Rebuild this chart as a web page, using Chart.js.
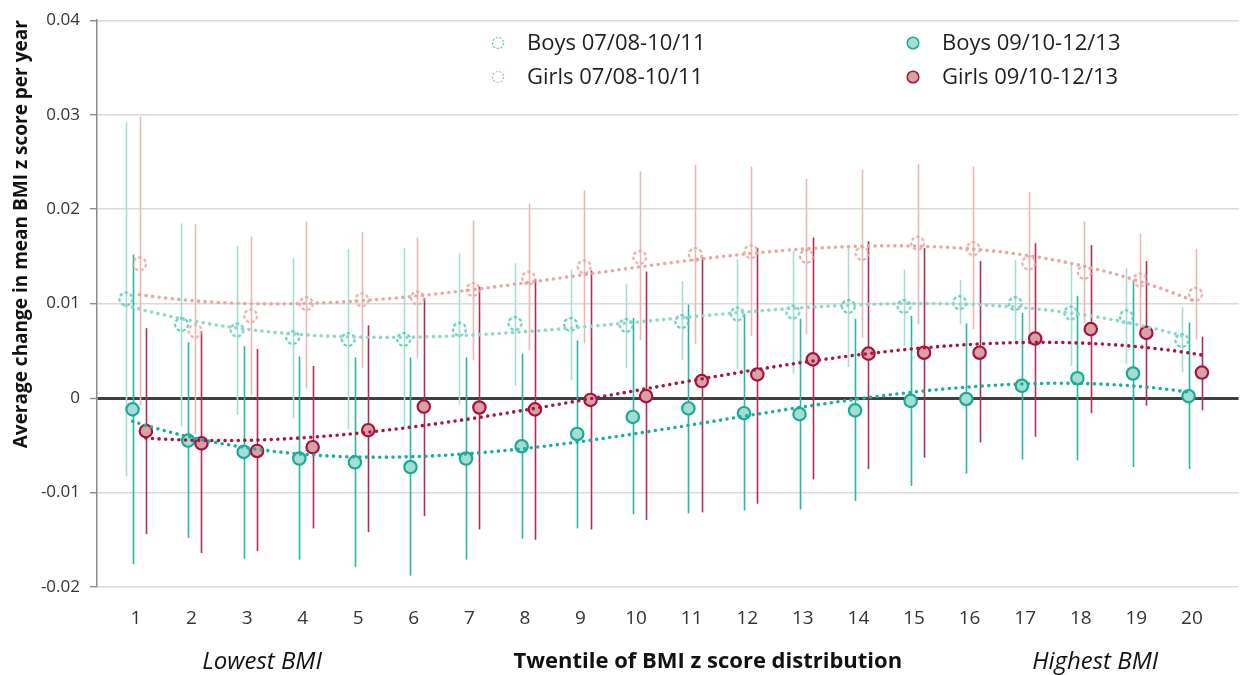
<!DOCTYPE html>
<html>
<head>
<meta charset="utf-8">
<script src="https://cdn.jsdelivr.net/npm/chart.js@4.4.0/dist/chart.umd.min.js"></script>
<style>
  html, body { margin: 0; padding: 0; background: #ffffff; }
  #wrap { width: 1247px; height: 675px; position: relative; }
</style>
</head>
<body>
<div id="wrap"><canvas id="chart"></canvas></div>
<script>
// Twentiles of the BMI z score distribution
const twentiles = [1, 2, 3, 4, 5, 6, 7, 8, 9, 10, 11, 12, 13, 14, 15, 16, 17, 18, 19, 20];
const xTickLabels = ['1', '2', '3', '4', '5', '6', '7', '8', '9', '10', '11', '12', '13', '14', '15', '16', '17', '18', '19', '20'];
const yTickValues = [-0.02, -0.01, 0, 0.01, 0.02, 0.03, 0.04];

// Boys 07/08-10/11: mean change and 95% interval
const boys0708 = [0.0105, 0.0078, 0.0072, 0.0064, 0.0062, 0.0062, 0.0073, 0.0079, 0.0078, 0.0077, 0.0081, 0.0089, 0.0091, 0.0097, 0.0097, 0.0101, 0.0100, 0.0090, 0.0086, 0.0061];
const boys0708Low = [-0.0083, -0.0030, -0.0018, -0.0021, -0.0033, -0.0031, -0.0007, 0.0013, 0.0019, 0.0032, 0.0040, 0.0031, 0.0026, 0.0033, 0.0055, 0.0078, 0.0061, 0.0034, 0.0036, 0.0027];
const boys0708High = [0.0292, 0.0185, 0.0161, 0.0148, 0.0158, 0.0159, 0.0153, 0.0143, 0.0136, 0.0121, 0.0124, 0.0147, 0.0156, 0.0159, 0.0136, 0.0125, 0.0146, 0.0142, 0.0138, 0.0096];

// Girls 07/08-10/11
const girls0708 = [0.0142, 0.0071, 0.0087, 0.0100, 0.0104, 0.0106, 0.0115, 0.0127, 0.0139, 0.0149, 0.0152, 0.0155, 0.0150, 0.0153, 0.0164, 0.0158, 0.0143, 0.0133, 0.0125, 0.0110];
const girls0708Low = [-0.0008, -0.0038, 0.0003, 0.0010, 0.0032, 0.0042, 0.0040, 0.0051, 0.0058, 0.0061, 0.0057, 0.0066, 0.0068, 0.0064, 0.0078, 0.0073, 0.0064, 0.0080, 0.0073, 0.0062];
const girls0708High = [0.0298, 0.0184, 0.0171, 0.0187, 0.0176, 0.0170, 0.0188, 0.0206, 0.0220, 0.0240, 0.0247, 0.0245, 0.0232, 0.0242, 0.0248, 0.0245, 0.0218, 0.0187, 0.0174, 0.0158];

// Boys 09/10-12/13
const boys0910 = [-0.0012, -0.0045, -0.0057, -0.0064, -0.0068, -0.0073, -0.0064, -0.0051, -0.0038, -0.0020, -0.0011, -0.0016, -0.0017, -0.0013, -0.0003, -0.0001, 0.0013, 0.0021, 0.0026, 0.0002];
const boys0910Low = [-0.0176, -0.0148, -0.0170, -0.0171, -0.0179, -0.0188, -0.0171, -0.0149, -0.0138, -0.0123, -0.0122, -0.0119, -0.0118, -0.0109, -0.0093, -0.0080, -0.0065, -0.0066, -0.0073, -0.0075];
const boys0910High = [0.0152, 0.0059, 0.0055, 0.0044, 0.0043, 0.0043, 0.0043, 0.0047, 0.0061, 0.0085, 0.0099, 0.0089, 0.0084, 0.0084, 0.0087, 0.0079, 0.0090, 0.0108, 0.0124, 0.0080];

// Girls 09/10-12/13
const girls0910 = [-0.0035, -0.0048, -0.0056, -0.0052, -0.0034, -0.0009, -0.0010, -0.0012, -0.0002, 0.0002, 0.0018, 0.0025, 0.0041, 0.0047, 0.0048, 0.0048, 0.0063, 0.0073, 0.0069, 0.0027];
const girls0910Low = [-0.0144, -0.0164, -0.0162, -0.0138, -0.0142, -0.0125, -0.0139, -0.0150, -0.0139, -0.0129, -0.0121, -0.0112, -0.0086, -0.0075, -0.0063, -0.0047, -0.0041, -0.0016, -0.0008, -0.0013];
const girls0910High = [0.0074, 0.0071, 0.0052, 0.0034, 0.0077, 0.0106, 0.0118, 0.0126, 0.0135, 0.0134, 0.0149, 0.0159, 0.0170, 0.0166, 0.0159, 0.0145, 0.0164, 0.0162, 0.0145, 0.0065];

const FONT = "'Open Sans', 'Liberation Sans', sans-serif";

// Least-squares polynomial trend (cubic), as used for the dotted trend curves
function polyfit(xs, ys, deg) {
  const n = deg + 1;
  const A = Array.from({ length: n }, () => new Array(n + 1).fill(0));
  xs.forEach((x, k) => {
    for (let r = 0; r < n; r++) {
      for (let c = 0; c < n; c++) A[r][c] += Math.pow(x, r + c);
      A[r][n] += ys[k] * Math.pow(x, r);
    }
  });
  for (let i = 0; i < n; i++) {
    let p = i;
    for (let j = i + 1; j < n; j++) if (Math.abs(A[j][i]) > Math.abs(A[p][i])) p = j;
    [A[i], A[p]] = [A[p], A[i]];
    for (let j = i + 1; j < n; j++) {
      const f = A[j][i] / A[i][i];
      for (let c = i; c <= n; c++) A[j][c] -= f * A[i][c];
    }
  }
  const coef = new Array(n).fill(0);
  for (let i = n - 1; i >= 0; i--) {
    let s = A[i][n];
    for (let c = i + 1; c < n; c++) s -= A[i][c] * coef[c];
    coef[i] = s / A[i][i];
  }
  return x => coef.reduce((acc, a, i) => acc + a * Math.pow(x, i), 0);
}

function trendPoints(values, shift) {
  const f = polyfit(twentiles, values, 3);
  const pts = [];
  const first = twentiles[0], last = twentiles[twentiles.length - 1];
  for (let t = first; t <= last + 1e-9; t += 0.1) pts.push({ x: t + shift, y: f(t) });
  return pts;
}

// Dashed open circle used for the 07/08-10/11 cohorts
function dashedCircle(color, radius, lineWidth, dash) {
  const size = Math.ceil(2 * (radius + lineWidth)) + 2;
  const cv = document.createElement('canvas');
  cv.width = size; cv.height = size;
  const g = cv.getContext('2d');
  g.strokeStyle = color;
  g.lineWidth = lineWidth;
  g.setLineDash(dash);
  g.beginPath();
  g.arc(size / 2, size / 2, radius, 0, Math.PI * 2);
  g.stroke();
  return cv;
}

const series = [
  { label: 'Boys 07/08-10/11', values: boys0708, low: boys0708Low, high: boys0708High, shift: -0.18,
    marker: '#5fcabb', fill: null, bar: '#a6ded6', trend: '#8fd6cd', order: 4 },
  { label: 'Girls 07/08-10/11', values: girls0708, low: girls0708Low, high: girls0708High, shift: 0.065,
    marker: '#e3a9a4', fill: null, bar: '#e8bab6', trend: '#e2aaa4', order: 3 },
  { label: 'Boys 09/10-12/13', values: boys0910, low: boys0910Low, high: boys0910High, shift: -0.06,
    marker: '#17aa96', fill: '#a5dcd4', bar: '#2bb5a3', trend: '#17b09c', order: 2 },
  { label: 'Girls 09/10-12/13', values: girls0910, low: girls0910Low, high: girls0910High, shift: 0.18,
    marker: '#a5123f', fill: '#d8a2a3', bar: '#b02d58', trend: '#a6163f', order: 1 }
];

const datasets = [];
series.forEach(s => {
  const hollow = s.fill === null;
  datasets.push({
    type: 'scatter',
    label: s.label,
    data: twentiles.map((t, i) => ({ x: t + s.shift, y: s.values[i] })),
    pointStyle: hollow ? dashedCircle(s.marker, 6.4, 2.1, [3.4, 2.2]) : 'circle',
    pointRadius: 6.2,
    pointHoverRadius: 6.2,
    pointBorderWidth: 2.2,
    pointBackgroundColor: hollow ? 'rgba(0,0,0,0)' : s.fill,
    pointBorderColor: s.marker,
    order: s.order
  });
  datasets.push({
    type: 'line',
    label: s.label + ' trend',
    data: trendPoints(s.values, s.shift),
    borderColor: s.trend,
    borderWidth: 3.6,
    borderDash: [0, 6.6],
    borderCapStyle: 'round',
    pointRadius: 0,
    fill: false,
    tension: 0,
    order: 0
  });
});

// Vertical interval bars, drawn beneath the markers
const intervalBars = {
  id: 'intervalBars',
  beforeDatasetsDraw(chart) {
    const { ctx, scales: { x, y } } = chart;
    ctx.save();
    ctx.lineWidth = 1.6;
    series.forEach(s => {
      ctx.strokeStyle = s.bar;
      twentiles.forEach((t, i) => {
        const px = Math.round(x.getPixelForValue(t + s.shift)) + 0.5;
        ctx.beginPath();
        ctx.moveTo(px, y.getPixelForValue(s.low[i]));
        ctx.lineTo(px, y.getPixelForValue(s.high[i]));
        ctx.stroke();
      });
    });
    ctx.restore();
  }
};

// Two-column key at the top of the plot
const keyPlugin = {
  id: 'key',
  afterDraw(chart) {
    const { ctx } = chart;
    const cols = [498, 913];
    const rows = [43, 77];
    const slots = [[0, 0], [0, 1], [1, 0], [1, 1]];
    ctx.save();
    ctx.font = `22px ${FONT}`;
    ctx.textBaseline = 'middle';
    ctx.textAlign = 'left';
    series.forEach((s, i) => {
      const [c, r] = slots[i];
      const cx = cols[c], cy = rows[r];
      if (s.fill === null) {
        ctx.strokeStyle = s.marker;
        ctx.lineWidth = 1.2;
        ctx.setLineDash([2.2, 1.6]);
        ctx.beginPath();
        ctx.arc(cx, cy, 5.5, 0, Math.PI * 2);
        ctx.stroke();
        ctx.setLineDash([]);
      } else {
        ctx.fillStyle = s.fill;
        ctx.strokeStyle = s.marker;
        ctx.lineWidth = 1.5;
        ctx.beginPath();
        ctx.arc(cx, cy, 5.8, 0, Math.PI * 2);
        ctx.fill();
        ctx.stroke();
      }
      ctx.fillStyle = '#1e1e1e';
      ctx.fillText(s.label, cx + 29, cy + 1);
    });
    ctx.restore();
  }
};

// Captions under the twentile numbers
const bottomCaptions = {
  id: 'bottomCaptions',
  afterDraw(chart) {
    const { ctx, scales: { x } } = chart;
    const y = 662;
    ctx.save();
    ctx.fillStyle = '#111111';
    ctx.textAlign = 'center';
    ctx.textBaseline = 'middle';
    ctx.font = `italic 24px ${FONT}`;
    ctx.fillText('Lowest BMI', x.getPixelForValue(3.27), y);
    ctx.fillText('Highest BMI', x.getPixelForValue(18.26), y);
    ctx.font = `bold 22px ${FONT}`;
    ctx.fillText('Twentile of BMI z score distribution', x.getPixelForValue(11.29), y);
    ctx.restore();
  }
};

new Chart(document.getElementById('chart'), {
  type: 'scatter',
  data: { datasets },
  plugins: [intervalBars, keyPlugin, bottomCaptions],
  options: {
    responsive: true,
    maintainAspectRatio: false,
    animation: false,
    devicePixelRatio: 1,
    layout: { padding: { top: 18, right: 2, left: 0, bottom: 0 } },
    plugins: { legend: { display: false }, tooltip: { enabled: false } },
    scales: {
      x: {
        type: 'linear',
        min: 0.3,
        max: 20.84,
        afterFit(scale) { scale.height = 88; },
        afterBuildTicks(scale) { scale.ticks = twentiles.map(v => ({ value: v })); },
        grid: { display: false, drawTicks: false },
        border: { display: false },
        ticks: {
          padding: 20,
          autoSkip: false,
          maxRotation: 0,
          color: '#333333',
          font: { family: FONT, size: 19 },
          callback: (v, i) => xTickLabels[i]
        }
      },
      y: {
        min: -0.02,
        max: 0.04,
        afterFit(scale) { scale.width = 97; },
        afterBuildTicks(scale) { scale.ticks = yTickValues.map(v => ({ value: v })); },
        grid: {
          color: c => (c.tick && c.tick.value === 0 ? '#404040' : '#d9d9d9'),
          lineWidth: c => (c.tick && c.tick.value === 0 ? 3 : 1.4),
          tickColor: '#8c8c8c',
          tickWidth: 1.4,
          tickLength: 7,
          drawTicks: true
        },
        border: { display: true, color: '#8c8c8c', width: 1.5 },
        ticks: {
          padding: 10,
          color: '#333333',
          font: { family: FONT, size: 17 },
          callback: v => (Math.abs(v) < 1e-9 ? '0' : v.toFixed(2))
        },
        title: {
          display: true,
          text: 'Average change in mean BMI z score per year',
          align: 'end',
          color: '#111111',
          font: { family: FONT, size: 19, weight: 'bold' },
          padding: { top: 10, bottom: 0 }
        }
      }
    }
  }
});
</script>
</body>
</html>
